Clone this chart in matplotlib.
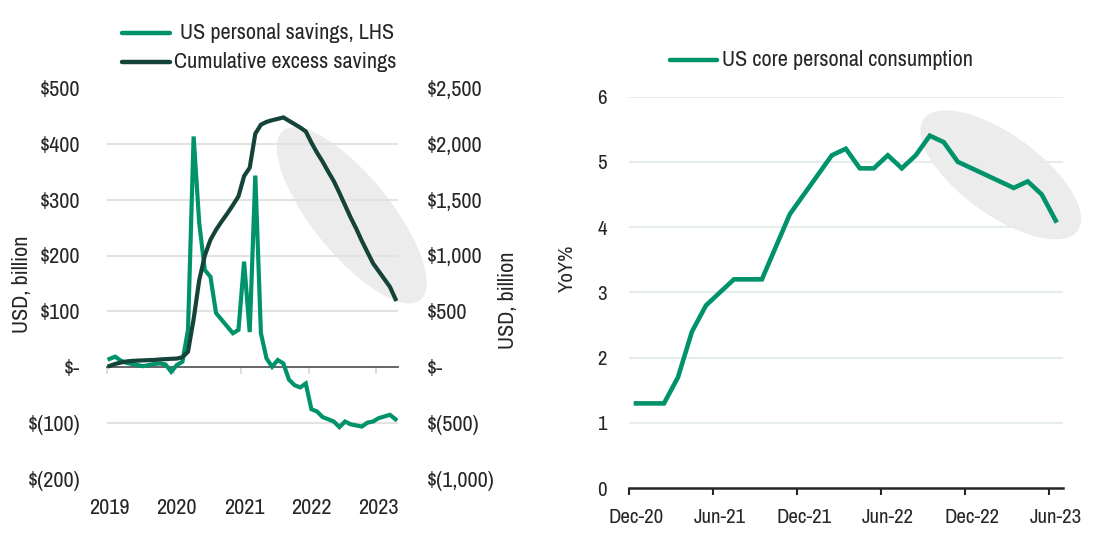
import numpy as np
import pandas as pd
import matplotlib
matplotlib.use("Agg")
import matplotlib.pyplot as plt
from matplotlib import font_manager
from matplotlib.patches import Ellipse, Rectangle
from matplotlib.lines import Line2D
from matplotlib.transforms import IdentityTransform, blended_transform_factory

W, H = 1099, 539
GREEN = '#00936b'
DARK = '#15433a'
TXT = '#262626'
SHADE = '#ececec'

# left chart: monthly, Jan 2019 .. Apr 2023
savings_months = pd.period_range('2019-01', '2023-04', freq='M')
personal_savings = [15, 19, 12, 8, 6, 4, 2, 4, 6, 7, 5, -8,
                    4, 10, 67, 413, 258, 174, 162, 97, 85, 73, 61, 67,
                    189, 63, 343, 61, 16, 1, 13, 7, -22, -32, -36, -29,
                    -75, -79, -89, -93, -97, -107, -97, -102, -104, -106, -99, -97,
                    -91, -88, -85, -93]
excess_savings = [12, 30, 42, 52, 57, 60, 62, 64, 66, 70, 73, 76,
                  78, 90, 140, 430, 780, 1000, 1140, 1230, 1305, 1375, 1450, 1530,
                  1710, 1785, 2090, 2170, 2195, 2210, 2222, 2235, 2205, 2175, 2145, 2110,
                  2010, 1920, 1840, 1750, 1665, 1560, 1450, 1340, 1240, 1130, 1030, 930,
                  860, 790, 720, 610]
year_labels = ['2019', '2020', '2021', '2022', '2023']
lhs_ticks = [500, 400, 300, 200, 100, 0, -100, -200]
lhs_labels = ['$500', '$400', '$300', '$200', '$100', '$-', '$(100)', '$(200)']
rhs_ticks = [2500, 2000, 1500, 1000, 500, 0, -500, -1000]
rhs_labels = ['$2,500', '$2,000', '$1,500', '$1,000', '$500', '$-', '$(500)', '$(1,000)']

# right chart: monthly, Dec 2020 .. Jun 2023
pce_months = pd.period_range('2020-12', '2023-06', freq='M')
core_pce = [1.3, 1.3, 1.3, 1.7, 2.4, 2.8, 3.0, 3.2, 3.2, 3.2, 3.7, 4.2,
            4.5, 4.8, 5.1, 5.2, 4.9, 4.9, 5.1, 4.9, 5.1, 5.4, 5.3, 5.0,
            4.9, 4.8, 4.7, 4.6, 4.7, 4.5, 4.1]
pce_yticks = [0, 1, 2, 3, 4, 5, 6]


def pick_font():
    # prefer a narrow face like the original; otherwise shrink a normal one
    fonts = font_manager.fontManager.ttflist
    for f in fonts:
        if 'Narrow' in f.name or 'Condensed' in f.name:
            return f.name, 'normal', 1.0
    for f in fonts:
        if f.name == 'DejaVu Sans' and f.stretch in ('condensed', 'semi-condensed', 600, 700):
            return 'DejaVu Sans', 'condensed', 0.95
    return 'Liberation Sans', 'normal', 0.84


FONT, STRETCH, SCALE = pick_font()
plt.rcParams['font.family'] = [FONT, 'DejaVu Sans']
plt.rcParams['font.stretch'] = STRETCH
FS_L = 16 * SCALE
FS_R = 15 * SCALE


def px_axes(fig, x0, y0, x1, y1):
    # pixel box (top-left origin) -> figure axes
    return fig.add_axes([x0 / W, 1 - y1 / H, (x1 - x0) / W, (y1 - y0) / H])


def px_ellipse(ax, cx, cy, w, h, angle):
    # shaded highlight, centre given in data coords, size in pixels
    xc, yc = ax.transData.transform((cx, cy))
    e = Ellipse((xc, yc), w, h, angle=angle, transform=IdentityTransform(),
                facecolor=SHADE, edgecolor='none', zorder=0.2, clip_on=False)
    ax.add_artist(e)


def left_chart(fig):
    ax = px_axes(fig, 106.7, 87.8, 398.3, 479.1)
    x = np.arange(len(savings_months))
    ax.set_xlim(-0.5, len(x) - 0.5)
    ax.set_ylim(-200, 500)
    ax.set_yticks(lhs_ticks)
    ax.set_yticklabels(lhs_labels)
    ax.tick_params(axis='y', length=0, pad=19, labelsize=FS_L, labelcolor=TXT)

    for s in ['top', 'right', 'left']:
        ax.spines[s].set_visible(False)
    ax.spines['bottom'].set_position(('data', 0))
    ax.spines['bottom'].set_color('#595959')
    ax.spines['bottom'].set_linewidth(1.3)
    ax.spines['bottom'].set_zorder(1.5)

    jan_idx = [i for i, m in enumerate(savings_months) if m.month == 1]
    ax.set_xticks([i - 0.5 for i in jan_idx])
    ax.set_xticklabels([])
    ax.tick_params(axis='x', length=5, width=1.3, color='#d9d9d9', direction='out')
    xt = blended_transform_factory(ax.transData, fig.transFigure)
    for i, lab in zip(jan_idx, year_labels):
        ax.text(i, 1 - 508 / H, lab, transform=xt, ha='center', va='center',
                fontsize=FS_L, color=TXT)

    ax.set_axisbelow(True)
    ax.grid(axis='y', color='#e2e2e2', linewidth=1.5)
    ax.get_ygridlines()[0].set_visible(False)
    ax.get_ygridlines()[-1].set_visible(False)
    ax.get_ygridlines()[5].set_visible(False)

    ax2 = ax.twinx()
    ax2.set_ylim(-1000, 2500)
    ax2.set_yticks(rhs_ticks)
    ax2.set_yticklabels(rhs_labels)
    ax2.tick_params(axis='y', length=0, pad=20.5, labelsize=FS_L, labelcolor=TXT)
    for s in ax2.spines.values():
        s.set_visible(False)

    fig.canvas.draw()
    px_ellipse(ax, 43.2, 272, 218, 78, -51)
    # white strip that cuts the shade above the right edge
    ax.add_artist(Rectangle((398.8, H - 213), 40, 120, transform=IdentityTransform(),
                            facecolor='white', edgecolor='none', zorder=0.3, clip_on=False))

    ax.plot(x, personal_savings, color=GREEN, lw=3.0, zorder=3, solid_joinstyle='miter')
    ax2.plot(x, excess_savings, color=DARK, lw=3.0, zorder=3, solid_joinstyle='miter')

    fig.text(22 / W, 1 - 284 / H, 'USD, billion', rotation=90, ha='center', va='center',
             fontsize=FS_L, color=TXT)
    fig.text(508 / W, 1 - 300 / H, 'USD, billion', rotation=90, ha='center', va='center',
             fontsize=FS_L, color=TXT)

    # legend
    fig.add_artist(Line2D([122 / W, 170 / W], [1 - 33.3 / H] * 2, color=GREEN, lw=3.2,
                          solid_capstyle='round'))
    fig.add_artist(Line2D([122 / W, 170 / W], [1 - 61.7 / H] * 2, color=DARK, lw=3.2,
                          solid_capstyle='round'))
    fig.text(180 / W, 1 - 33.3 / H, 'US personal savings, LHS', ha='left', va='center',
             fontsize=FS_L, color=TXT)
    fig.text(174 / W, 1 - 61.7 / H, 'Cumulative excess savings', ha='left', va='center',
             fontsize=FS_L, color=TXT)


def right_chart(fig):
    ax = px_axes(fig, 629, 96.5, 1062.7, 488.3)
    x = np.arange(len(pce_months))
    ax.set_xlim(-0.5, len(x) - 0.5)
    ax.set_ylim(0, 6)
    ax.set_yticks(pce_yticks)
    ax.tick_params(axis='y', length=0, pad=16, labelsize=FS_R, labelcolor=TXT)

    for s in ['top', 'right', 'left']:
        ax.spines[s].set_visible(False)
    ax.spines['bottom'].set_color(TXT)
    ax.spines['bottom'].set_linewidth(1.8)

    lab_idx = list(range(0, len(x), 6))
    ax.set_xticks([i - 0.5 for i in lab_idx])
    ax.set_xticklabels([])
    ax.tick_params(axis='x', which='major', length=5, width=1.5, color=TXT, direction='out')
    ax.set_xticks(lab_idx, minor=True)
    ax.set_xticklabels([pce_months[i].strftime('%b-%y') for i in lab_idx], minor=True)
    ax.tick_params(axis='x', which='minor', length=0, pad=14, labelsize=FS_R, labelcolor=TXT)

    ax.set_axisbelow(True)
    ax.grid(axis='y', color='#e6ecea', linewidth=1.5)
    ax.get_ygridlines()[0].set_visible(False)

    fig.canvas.draw()
    px_ellipse(ax, 26.07, 4.80, 190, 80, -36)

    ax.plot(x, core_pce, color=GREEN, lw=3.3, zorder=3, solid_joinstyle='miter')

    fig.text(567 / W, 1 - 268 / H, 'YoY%', rotation=90, ha='center', va='center',
             fontsize=FS_R, color=TXT)

    fig.add_artist(Line2D([670 / W, 717 / W], [1 - 60 / H] * 2, color=GREEN, lw=3.2,
                          solid_capstyle='round'))
    fig.text(722 / W, 1 - 60 / H, 'US core personal consumption', ha='left', va='center',
             fontsize=FS_L, color=TXT)


def main():
    fig = plt.figure(figsize=(W / 100, H / 100), dpi=100)
    fig.patch.set_facecolor('white')
    left_chart(fig)
    right_chart(fig)
    fig.savefig('out.png', dpi=100)


if __name__ == "__main__":
    main()
